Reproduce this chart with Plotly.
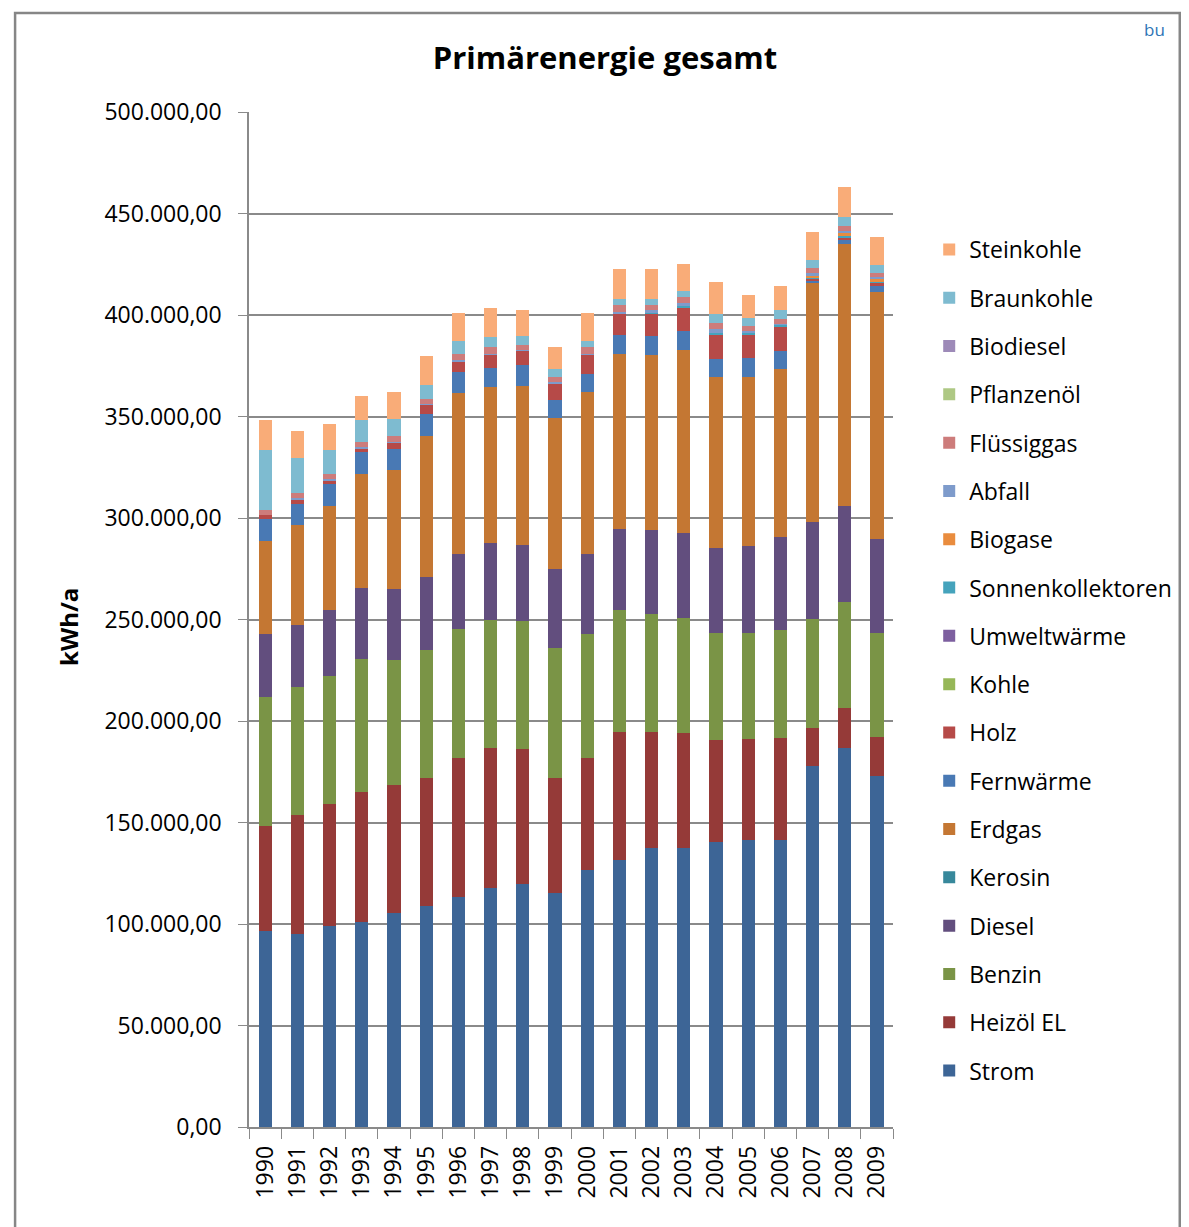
"""Primärenergie gesamt – stacked bars of primary energy by carrier, 1990-2009."""
import plotly.graph_objects as go

years = [str(y) for y in range(1990, 2010)]

strom       = [96500, 95200, 99200, 101100, 105400, 109000, 113300, 117900, 119800, 115300,
               126600, 131500, 137600, 137600, 140500, 141500, 141500, 178000, 186800, 173100]
heizoel     = [51800, 58500, 59900, 63900, 63100, 62900, 68500, 68800, 66400, 56600,
               55300, 63100, 57000, 56500, 50100, 49600, 50100, 18500, 19700, 19000]
benzin      = [63500, 63000, 63100, 65500, 61500, 63100, 63500, 63000, 63100, 64200,
               61000, 60100, 58100, 56600, 52700, 52200, 53200, 53700, 52100, 51200]
diesel      = [31100, 30600, 32500, 35000, 35000, 35900, 37000, 38000, 37400, 38800,
               39400, 39900, 41400, 41900, 41900, 42900, 45800, 47800, 47300, 46300]
kerosin     = [0, 0, 0, 0, 0, 0, 0, 0, 0, 0, 0, 0, 0, 0, 0, 0, 0, 0, 0, 0]
erdgas      = [45800, 49200, 51200, 56200, 58600, 69500, 79300, 76800, 78300, 74500,
               79800, 86300, 86200, 90300, 84300, 83300, 82800, 117600, 129100, 121700]
fernwaerme  = [10800, 10400, 11000, 10800, 10400, 11000, 10500, 9400, 10400, 8900,
               9000, 9200, 9500, 9200, 8800, 9500, 8900, 1000, 1900, 3000]
holz        = [2000, 2000, 1300, 1500, 3100, 4300, 5200, 6400, 6900, 8200,
               9200, 10400, 10700, 11300, 11800, 11100, 11800, 1600, 1500, 1500]
kohle       = [0, 0, 0, 0, 0, 0, 0, 0, 0, 0, 0, 0, 0, 0, 0, 0, 0, 0, 0, 0]
umwelt      = [0, 0, 0, 0, 0, 0, 0, 0, 0, 0, 0, 0, 0, 0, 0, 0, 0, 0, 0, 0]
sonnen      = [0, 0, 0, 0, 0, 0, 0, 0, 0, 0, 0, 300, 500, 1100, 1000, 1000, 1000, 500, 700, 700]
biogase     = [0, 0, 0, 0, 0, 0, 0, 0, 0, 0, 0, 0, 0, 0, 0, 0, 0, 700, 1300, 1300]
abfall      = [0, 1000, 1000, 1000, 300, 500, 500, 700, 500, 700,
               700, 700, 1600, 1300, 2000, 1000, 700, 1100, 1000, 700]
fluessiggas = [2500, 2500, 2500, 2500, 3000, 2500, 3000, 3300, 2500, 2300,
               3300, 3400, 2300, 3000, 3000, 2600, 2300, 2600, 2500, 2300]
pflanzenoel = [0, 0, 0, 0, 0, 0, 0, 0, 0, 0, 0, 0, 0, 0, 0, 0, 0, 0, 0, 0]
biodiesel   = [0, 0, 0, 0, 0, 0, 0, 0, 0, 0, 0, 0, 0, 0, 0, 0, 0, 0, 0, 0]
braunkohle  = [29600, 17200, 11800, 10800, 8400, 6800, 6400, 4900, 4600, 3900,
               3000, 3000, 3000, 3000, 4600, 3900, 4400, 3900, 4400, 3900]
steinkohle  = [14800, 13300, 12800, 11800, 13300, 14300, 13800, 14300, 12600, 10800,
               13800, 14800, 14800, 13300, 15600, 11200, 11800, 13800, 14800, 13800]

# bottom to top of the stack
series = [
    ("Strom", strom, "#3D6596"),
    ("Heizöl EL", heizoel, "#953A38"),
    ("Benzin", benzin, "#7A9446"),
    ("Diesel", diesel, "#624E7E"),
    ("Kerosin", kerosin, "#37889B"),
    ("Erdgas", erdgas, "#C47733"),
    ("Fernwärme", fernwaerme, "#4979B4"),
    ("Holz", holz, "#B64A48"),
    ("Kohle", kohle, "#96B758"),
    ("Umweltwärme", umwelt, "#7D5F9F"),
    ("Sonnenkollektoren", sonnen, "#45A3BC"),
    ("Biogase", biogase, "#E98C3E"),
    ("Abfall", abfall, "#7E9BCB"),
    ("Flüssiggas", fluessiggas, "#CD7C7B"),
    ("Pflanzenöl", pflanzenoel, "#AEC884"),
    ("Biodiesel", biodiesel, "#9D8AB8"),
    ("Braunkohle", braunkohle, "#7EBBD0"),
    ("Steinkohle", steinkohle, "#F9AC78"),
]

FONT = "Open Sans"
GRID = "#8A8A8A"

# plot area in page pixels (the page body adds an 8px offset)
PX0, PX1, PY0, PY1 = 249, 907, 112, 1127


def px(x):
    return (x - PX0) / (PX1 - PX0)


def py(y):
    return (PY1 - y) / (PY1 - PY0)


fig = go.Figure()
for i, (name, vals, color) in enumerate(series):
    fig.add_trace(go.Bar(
        x=years, y=vals, name=name, legendgroup=name,
        legendrank=100 - i,   # top of the stack first in the legend
        marker=dict(color=color, line=dict(width=0)),
    ))

fig.update_layout(
    width=1181, height=1219,
    margin=dict(l=PX0 - 8, r=1189 - PX1, t=PY0 - 8, b=1227 - PY1),
    barmode="stack", bargap=0.59,
    separators=",.",
    paper_bgcolor="white", plot_bgcolor="white",
    font=dict(family=FONT, color="black", size=22),
    title=dict(text="<b>Primärenergie gesamt</b>", x=(605 - 8) / 1181, xanchor="center",
               y=1 - (58 - 8) / 1219, yanchor="middle",
               font=dict(family=FONT, size=31, color="black")),
    legend=dict(x=px(944), xanchor="left", y=py(228), yanchor="top",
                traceorder="grouped", tracegroupgap=15.4, itemwidth=30,
                font=dict(family=FONT, size=23, color="black")),
    showlegend=True,
)

fig.update_yaxes(
    range=[0, 500000], dtick=50000, tickformat=",.2f",
    showgrid=True, gridcolor=GRID, gridwidth=1.5,
    showline=True, linecolor=GRID, linewidth=1.5,
    ticks="outside", ticklen=9, tickcolor=GRID, ticklabelstandoff=12,
    tickfont=dict(family=FONT, size=23, color="black"),
    zeroline=False,
)
fig.update_xaxes(
    type="category", tickson="boundaries",
    showline=True, linecolor=GRID, linewidth=1.5,
    ticks="outside", ticklen=10, tickcolor=GRID,
    tickangle=-90, ticklabelstandoff=8,
    tickfont=dict(family=FONT, size=23, color="black"),
    showgrid=False,
)

# y axis title
fig.add_annotation(text="<b>kWh/a</b>", xref="paper", yref="paper",
                   x=px(65), xanchor="center", y=py(627), yanchor="middle", textangle=-90,
                   showarrow=False, font=dict(family=FONT, size=24, color="black"))

# page text from the top-right corner, kept inside the picture
fig.add_annotation(text="bu", xref="paper", yref="paper",
                   x=px(1187), xanchor="right", y=py(16), yanchor="top",
                   showarrow=False, font=dict(family=FONT, size=17, color="#2E75B6"))

# outer chart frame
fig.add_shape(type="rect", xref="paper", yref="paper",
              x0=px(10), x1=px(1200), y0=py(1240), y1=py(13),
              line=dict(color="#868686", width=2.5), fillcolor="rgba(0,0,0,0)")

fig.write_html("out.html")
